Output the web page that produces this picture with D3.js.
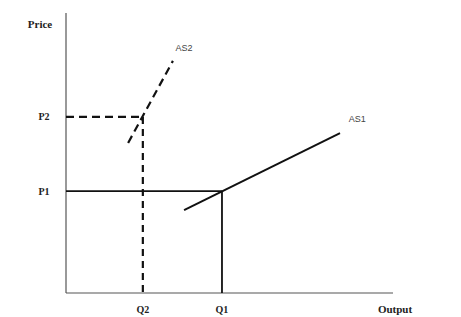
<!DOCTYPE html>
<html>
<head>
<meta charset="utf-8">
<script src="https://cdn.jsdelivr.net/npm/d3@7"></script>
<style>
  body { margin: 0; background: #fff; }
  svg text { font-family: "Liberation Serif", "DejaVu Serif", serif; }
</style>
</head>
<body>
<svg id="svg-1" width="461" height="317"></svg>
<script>
// quantities / prices in chart units (0-100 on each axis)
const quantities = { Q2: 23.5, Q1: 47.7 };
const prices = { P2: 62.9, P1: 36.4 };
const as1 = [{ q: 36.1, p: 29.6 }, { q: 83.8, p: 57.1 }];
const as2 = [{ q: 19.0, p: 53.6 }, { q: 32.7, p: 82.9 }];
const curveLabels = [
  { name: "AS1", q: 86.5, p: 61.0 },
  { name: "AS2", q: 33.5, p: 86.5 }
];

const svg = d3.select("#svg-1");

const margin = { top: 13, right: 68, bottom: 24, left: 66 },
  width = 461 - margin.left - margin.right,
  height = 317 - margin.top - margin.bottom;

const x = d3.scaleLinear().domain([0, 100]).range([0, width]);
const y = d3.scaleLinear().domain([0, 100]).range([height, 0]);

const g = svg.append("g")
  .attr("transform", "translate(" + margin.left + "," + margin.top + ")");

// axes
g.append("line")
  .attr("x1", 0).attr("y1", 0)
  .attr("x2", 0).attr("y2", height)
  .attr("stroke", "#555").attr("stroke-width", 1.2);
g.append("line")
  .attr("x1", 0).attr("y1", height)
  .attr("x2", width).attr("y2", height)
  .attr("stroke", "#555").attr("stroke-width", 1.2);

g.append("text")
  .attr("x", -26).attr("y", 15)
  .attr("text-anchor", "middle")
  .style("font-size", "11px").style("font-weight", "bold")
  .attr("fill", "#222")
  .text("Price");

g.append("text")
  .attr("x", width + 2).attr("y", height + 20)
  .attr("text-anchor", "middle")
  .style("font-size", "11px").style("font-weight", "bold")
  .attr("fill", "#222")
  .text("Output");

const line = d3.line().x(d => x(d.q)).y(d => y(d.p));

// P2 / Q2 dashed guides
g.append("line")
  .attr("x1", x(0)).attr("y1", y(prices.P2))
  .attr("x2", x(quantities.Q2)).attr("y2", y(prices.P2))
  .attr("stroke", "#111").attr("stroke-width", 2.2)
  .attr("stroke-dasharray", "8,5");
g.append("line")
  .attr("x1", x(quantities.Q2)).attr("y1", y(prices.P2))
  .attr("x2", x(quantities.Q2)).attr("y2", y(0))
  .attr("stroke", "#111").attr("stroke-width", 2.2)
  .attr("stroke-dasharray", "7,5");

// P1 / Q1 solid guides
g.append("line")
  .attr("x1", x(0)).attr("y1", y(prices.P1))
  .attr("x2", x(quantities.Q1)).attr("y2", y(prices.P1))
  .attr("stroke", "#111").attr("stroke-width", 1.6);
g.append("line")
  .attr("x1", x(quantities.Q1)).attr("y1", y(prices.P1))
  .attr("x2", x(quantities.Q1)).attr("y2", y(0))
  .attr("stroke", "#111").attr("stroke-width", 1.8);

// supply curves
g.append("path")
  .datum(as1)
  .attr("d", line)
  .attr("fill", "none").attr("stroke", "#111").attr("stroke-width", 2);
g.append("path")
  .datum(as2)
  .attr("d", line)
  .attr("fill", "none").attr("stroke", "#111").attr("stroke-width", 2.2)
  .attr("stroke-dasharray", "8,5");

// tick labels
Object.entries(prices).forEach(([k, v]) => {
  g.append("text")
    .attr("x", -22).attr("y", y(v) + 3.5)
    .attr("text-anchor", "middle")
    .style("font-size", "10px").style("font-weight", "bold")
    .attr("fill", "#222")
    .text(k);
});
Object.entries(quantities).forEach(([k, v]) => {
  g.append("text")
    .attr("x", x(v)).attr("y", height + 20)
    .attr("text-anchor", "middle")
    .style("font-size", "10px").style("font-weight", "bold")
    .attr("fill", "#222")
    .text(k);
});

curveLabels.forEach(d => {
  g.append("text")
    .attr("x", x(d.q)).attr("y", y(d.p))
    .style("font-size", "9px")
    .style("font-family", "'Liberation Sans', Arial, sans-serif")
    .attr("fill", "#444")
    .text(d.name);
});
</script>
</body>
</html>
